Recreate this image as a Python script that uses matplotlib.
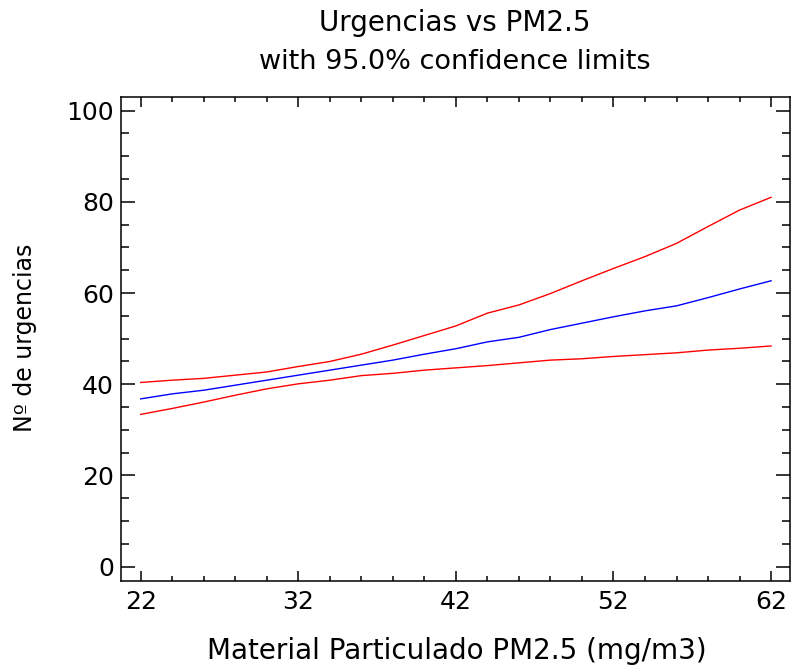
import numpy as np
import matplotlib
matplotlib.use("Agg")
import matplotlib.pyplot as plt
from matplotlib.ticker import MultipleLocator

# values (every 2 units of PM2.5)
pm25 = [22, 24, 26, 28, 30, 32, 34, 36, 38, 40, 42,
        44, 46, 48, 50, 52, 54, 56, 58, 60, 62]
fitted = [36.8, 37.9, 38.7, 39.8, 40.9, 42.0, 43.1, 44.2, 45.3, 46.6, 47.8,
          49.3, 50.3, 52.0, 53.4, 54.8, 56.1, 57.2, 59.0, 60.9, 62.7]
upper = [40.4, 40.9, 41.3, 42.0, 42.7, 43.9, 45.0, 46.6, 48.6, 50.7, 52.8,
         55.6, 57.4, 59.9, 62.7, 65.4, 68.0, 70.9, 74.6, 78.2, 81.0]
lower = [33.4, 34.7, 36.1, 37.6, 39.0, 40.1, 40.9, 41.9, 42.4, 43.1, 43.6,
         44.1, 44.7, 45.3, 45.6, 46.1, 46.5, 46.9, 47.5, 47.9, 48.4]

xticks = [22, 32, 42, 52, 62]
yticks = [0, 20, 40, 60, 80, 100]

plt.rcParams["font.family"] = ["DejaVu Sans"]

fig = plt.figure(figsize=(7.91, 6.65), dpi=100)
ax = fig.add_axes([0.1526, 0.1268, 0.8461, 0.7278])

ax.plot(pm25, upper, color="#ff0000", lw=1.0)
ax.plot(pm25, fitted, color="#0000ff", lw=1.0)
ax.plot(pm25, lower, color="#ff0000", lw=1.0)

ax.set_xlim(20.73, 63.2)
ax.set_ylim(-3.07, 103.07)
ax.set_xticks(xticks)
ax.set_yticks(yticks)
ax.xaxis.set_minor_locator(MultipleLocator(2))
ax.yaxis.set_minor_locator(MultipleLocator(5))

for s in ax.spines.values():
    s.set_linewidth(1.1)
    s.set_color("black")

ax.tick_params(axis="x", which="major", direction="in", top=True, bottom=True,
               length=7, width=1.1, labelsize=18, pad=7)
ax.tick_params(axis="x", which="minor", direction="in", top=True, bottom=True,
               length=3.6, width=1.1)
ax.tick_params(axis="y", which="major", direction="in", left=True, right=True,
               length=10, width=1.1, labelsize=18, pad=5)
ax.tick_params(axis="y", which="minor", direction="in", left=True, right=True,
               length=5.8, width=1.1)

fig.text(0.575, 1 - 23 / 665, "Urgencias vs PM2.5", ha="center", va="center", fontsize=20)
fig.text(0.575, 1 - 62 / 665, "with 95.0% confidence limits", ha="center", va="center", fontsize=19.5)
fig.text(0.578, 1 - 651 / 665, "Material Particulado PM2.5 (mg/m3)", ha="center", va="center",
         fontsize=20)
fig.text(25 / 791, 1 - 338 / 665, "Nº de urgencias", ha="center", va="center",
         rotation=90, fontsize=17)

fig.savefig("out.png", dpi=100)
